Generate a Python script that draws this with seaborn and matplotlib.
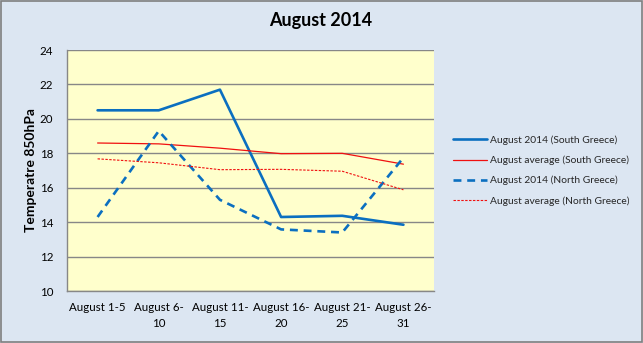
import matplotlib
matplotlib.use("Agg")
import matplotlib.pyplot as plt
import seaborn as sns
import pandas as pd
from matplotlib.patches import Rectangle

categories = ["August 1-5", "August 6-\n10", "August 11-\n15", "August 16-\n20", "August 21-\n25", "August 26-\n31"]
south_2014 = [20.5, 20.5, 21.7, 14.3, 14.37, 13.85]
south_avg = [18.6, 18.55, 18.3, 17.98, 18.0, 17.37]
north_2014 = [14.3, 19.3, 15.3, 13.58, 13.4, 17.75]
north_avg = [17.68, 17.45, 17.05, 17.07, 16.96, 15.88]
series_names = ["August 2014 (South Greece)", "August average (South Greece)",
                "August 2014 (North Greece)", "August average (North Greece)"]
yticks = [10, 12, 14, 16, 18, 20, 22, 24]

sns.set_theme(style="white")
plt.rcParams['font.family'] = ['Lato', 'DejaVu Sans']

fig = plt.figure(figsize=(6.43, 3.43), dpi=100)
fig.patch.set_facecolor("#DCE6F2")
fig.patches.append(Rectangle((0.002, 0.003), 0.996, 0.994, transform=fig.transFigure,
                             fill=False, edgecolor="#7F7F7F", linewidth=1.2))

ax = fig.add_axes([0.1042, 0.1516, 0.5708, 0.7024])
ax.set_facecolor("#FFFFCC")

x = list(range(len(categories)))
styles = [
    dict(color="#0B6FC0", lw=1.9, ls="-"),
    dict(color="#F01010", lw=0.9, ls="-"),
    dict(color="#0B6FC0", lw=1.9, ls=(0, (3.0, 2.2))),
    dict(color="#F01010", lw=0.8, ls=(0, (2.2, 1.3))),
]
for name, vals, st in zip(series_names, [south_2014, south_avg, north_2014, north_avg], styles):
    df = pd.DataFrame({"x": x, "y": vals})
    sns.lineplot(data=df, x="x", y="y", ax=ax, color=st["color"], linewidth=st["lw"],
                 linestyle=st["ls"], label=name, zorder=3)

ax.set_xlim(-0.5, len(categories) - 0.5)
ax.set_ylim(10, 24)
ax.set_yticks(yticks)
ax.set_xticks(x)
ax.set_xticklabels(categories, fontsize=8.3, color="#000000", linespacing=1.55)
ax.tick_params(axis="y", labelsize=8.3, length=0, pad=10, labelcolor="#000000")
ax.tick_params(axis="x", length=0, pad=8)
ax.yaxis.grid(True, color="#878787", linewidth=1.0)
ax.set_axisbelow(True)
for s in ["top", "right"]:
    ax.spines[s].set_visible(False)
for s in ["left", "bottom"]:
    ax.spines[s].set_color("#878787")
    ax.spines[s].set_linewidth(1.0)
ax.set_xlabel("")
ax.set_ylabel("Temperatre 850hPa", fontsize=10, fontweight="bold", color="#000000", labelpad=2)

fig.suptitle("August 2014", x=0.498, y=0.965, fontsize=13, fontweight="bold", color="#000000")

leg = ax.legend(loc="center left", bbox_to_anchor=(1.04, 0.5), frameon=False,
                fontsize=7.4, handlelength=3.3, handletextpad=0.35, labelspacing=1.05,
                borderaxespad=0)

fig.savefig("out.png", dpi=100, facecolor=fig.get_facecolor())
